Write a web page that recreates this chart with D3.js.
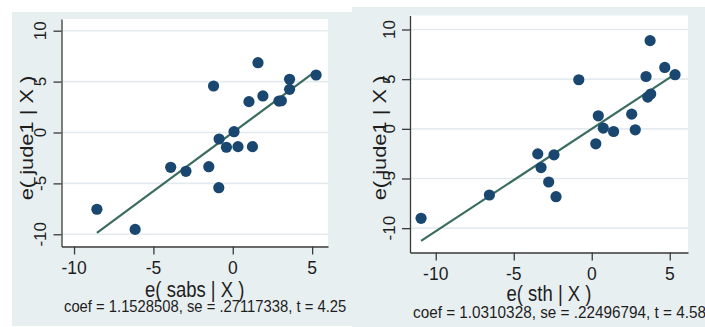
<!DOCTYPE html>
<html>
<head>
<meta charset="utf-8">
<script src="https://cdn.jsdelivr.net/npm/d3@7"></script>
<style>
  html, body { margin: 0; padding: 0; background: #ffffff; }
  svg { display: block; }
</style>
</head>
<body>
<svg id="chart" width="705" height="327"></svg>
<script>
// ---------- data ----------
const xTicks = [-10, -5, 0, 5];
const yTicks = [-10, -5, 0, 5, 10];
const yTitle = "e( jude1 | X )";

const sabsX = [-8.56, -6.15, -3.91, -2.95, -1.51, -0.88, -1.21, -0.86, -0.40, 0.08,
               0.33, 1.24, 1.02, 1.59, 1.90, 2.91, 3.06, 3.58, 3.58, 5.25];
const sabsY = [-7.54, -9.52, -3.42, -3.81, -3.36, -5.42, 4.57, -0.64, -1.45, 0.08,
               -1.39, -1.39, 3.03, 6.86, 3.59, 3.09, 3.12, 5.23, 4.24, 5.65];
const sabsTitle = "e( sabs | X )";
const sabsNote = "coef = 1.1528508, se = .27117338, t = 4.25";
const sabsCoef = 1.1528508;

const sthX = [-10.94, -6.56, -3.46, -3.25, -2.42, -2.76, -2.29, -0.83, 0.26, 0.42,
              0.74, 1.40, 2.56, 2.79, 3.48, 3.59, 3.78, 3.74, 4.68, 5.34];
const sthY = [-9.01, -6.66, -2.52, -3.90, -2.62, -5.35, -6.83, 4.94, -1.51, 1.31,
              0.07, -0.27, 1.48, -0.10, 5.27, 3.20, 3.50, 8.88, 6.18, 5.45];
const sthTitle = "e( sth | X )";
const sthNote = "coef = 1.0310328, se = .22496794, t = 4.58";
const sthCoef = 1.0310328;

// ---------- layout / style ----------
const FONT = "'Liberation Sans', Arial, sans-serif";
const BG = "#e8eff1";
const GRID = "#e4ebee";
const MARK = "#1a476f";
const FIT = "#3a6c60";
const AXIS = "#3a3a3a";
const TXT = "#1e1e1e";

const panels = [
  { xs: sabsX, ys: sabsY, coef: sabsCoef, title: sabsTitle, note: sabsNote,
    bg: [12, 12, 352, 326], plot: [61.5, 19, 328, 246.5],
    xDom: [-10.79, 6.0], yDom: [-11.2, 11.15],
    yTickX: 46, yTitleX: 33, yTitleY: 138,
    xTickBase: 274, xTitleBase: 297, noteX: 64, noteBase: 312, noteSize: 14.8 },
  { xs: sthX, ys: sthY, coef: sthCoef, title: sthTitle, note: sthNote,
    bg: [352, 7, 705, 327], plot: [410, 15.5, 688, 252.5],
    xDom: [-11.65, 6.17], yDom: [-12.45, 11.41],
    yTickX: 395, yTitleX: 386, yTitleY: 138,
    xTickBase: 280, xTitleBase: 301, noteX: 413, noteBase: 318, noteSize: 15.3 }
];

const svg = d3.select("#chart");

function addText(g, x, y, str, size, anchor, rot, sx, sy) {
  return g.append("text")
    .attr("transform", `translate(${x},${y}) rotate(${rot}) scale(${sx},${sy})`)
    .attr("text-anchor", anchor)
    .attr("font-family", FONT)
    .attr("font-size", size)
    .attr("fill", TXT)
    .text(str);
}

panels.forEach(p => {
  const g = svg.append("g");
  const [bx0, by0, bx1, by1] = p.bg;
  const [px0, py0, px1, py1] = p.plot;

  g.append("rect").attr("x", bx0).attr("y", by0)
    .attr("width", bx1 - bx0).attr("height", by1 - by0).attr("fill", BG);
  g.append("rect").attr("x", px0).attr("y", py0)
    .attr("width", px1 - px0).attr("height", py1 - py0).attr("fill", "#ffffff");

  const x = d3.scaleLinear().domain(p.xDom).range([px0, px1]);
  const y = d3.scaleLinear().domain(p.yDom).range([py1, py0]);

  // grid lines
  g.append("g").selectAll("line").data(yTicks).join("line")
    .attr("x1", px0).attr("x2", px1)
    .attr("y1", d => y(d)).attr("y2", d => y(d))
    .attr("stroke", GRID).attr("stroke-width", 1.6);

  // axes (ticks only via d3 axis)
  const xAxis = g.append("g").attr("transform", `translate(0,${py1})`)
    .call(d3.axisBottom(x).tickValues(xTicks).tickSize(8).tickSizeOuter(0).tickFormat(""));
  const yAxis = g.append("g").attr("transform", `translate(${px0},0)`)
    .call(d3.axisLeft(y).tickValues(yTicks).tickSize(8).tickSizeOuter(0).tickFormat(""));
  [xAxis, yAxis].forEach(a => {
    a.selectAll("path,line").attr("stroke", AXIS).attr("stroke-width", 1.3);
  });

  // tick labels
  xTicks.forEach(t => addText(g, x(t), p.xTickBase, String(t), 17.5, "middle", 0, 1, 1.05));
  yTicks.forEach(t => addText(g, p.yTickX, y(t), String(t), 17, "middle", -90, 1, 1));

  // titles and note
  addText(g, (px0 + px1) / 2, p.xTitleBase, p.title, 18.5, "middle", 0, 1, 1.15);
  addText(g, p.yTitleX, p.yTitleY, yTitle, 19, "middle", -90, 1.15, 1);
  addText(g, p.noteX, p.noteBase, p.note, p.noteSize, "start", 0, 1, 1.1);

  // fitted line from min to max x
  const ext = d3.extent(p.xs);
  const lineData = ext.map(v => [v, p.coef * v]);
  g.append("path")
    .attr("d", d3.line().x(d => x(d[0])).y(d => y(d[1]))(lineData))
    .attr("stroke", FIT).attr("stroke-width", 2.2).attr("fill", "none");

  // markers
  g.append("g").selectAll("circle").data(p.xs.map((v, i) => [v, p.ys[i]])).join("circle")
    .attr("cx", d => x(d[0])).attr("cy", d => y(d[1])).attr("r", 5.6)
    .attr("fill", MARK);
});
</script>
</body>
</html>
